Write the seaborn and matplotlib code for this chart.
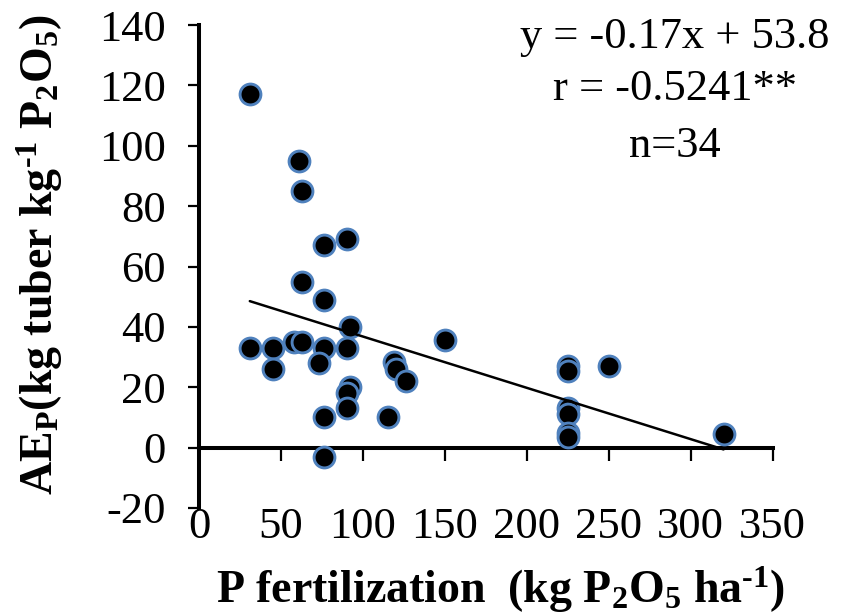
import matplotlib
matplotlib.use("Agg")
import matplotlib.pyplot as plt
import seaborn as sns
import pandas as pd

# P application rate (kg P2O5 / ha) and agronomic efficiency of P
p_rate = [31, 61, 63, 76, 90, 63, 76, 92,
          31, 45, 58, 63, 76, 90, 45, 73,
          119, 120, 126, 92, 90, 90, 76, 115, 76,
          150, 225, 225, 250, 225, 225, 225, 225, 320]
ae_p = [117, 95, 85, 67, 69, 55, 49, 40,
        33, 33, 35, 35, 33, 33, 26, 28,
        28.5, 26, 22, 20, 18, 13, 10, 10, -3,
        35.5, 27, 25.5, 27, 13, 11, 5, 3.5, 4.5]

# Fitted linear trend and statistics
slope, intercept = -0.17, 53.8
stats_lines = ["y = -0.17x + 53.8", "r = -0.5241**", "n=34"]

x_ticks = [0, 50, 100, 150, 200, 250, 300, 350]
y_ticks = [-20, 0, 20, 40, 60, 80, 100, 120, 140]

df = pd.DataFrame({"P": p_rate, "AE": ae_p})

sns.set_style("ticks")
plt.rcParams["font.family"] = ["Liberation Serif", "DejaVu Serif"]
plt.rcParams["mathtext.fontset"] = "custom"
plt.rcParams["mathtext.rm"] = "Liberation Serif"
plt.rcParams["mathtext.bf"] = "Liberation Serif:bold"
plt.rcParams["mathtext.it"] = "Liberation Serif:italic"
for key in ("text.color", "axes.labelcolor", "xtick.color", "ytick.color",
            "axes.edgecolor"):
    plt.rcParams[key] = "black"

fig = plt.figure(figsize=(8.45, 6.15), dpi=100)
ax = fig.add_axes([0.2355, 0.174, 0.679, 0.7853])

sns.scatterplot(data=df, x="P", y="AE", ax=ax, s=225, color="black",
                edgecolor="#4F81BD", linewidth=2.1, zorder=3, legend=False)

# trend line across the observed range
x0, x1 = min(p_rate), max(p_rate)
sns.lineplot(x=[x0, x1], y=[slope * x0 + intercept, slope * x1 + intercept],
             ax=ax, color="black", linewidth=1.8, zorder=4)

ax.set_xlim(0, 350)
ax.set_ylim(-20, 140)
ax.set_xticks(x_ticks)
ax.set_yticks(y_ticks)
ax.set_xticklabels([str(v) for v in x_ticks])
ax.set_yticklabels([str(v) for v in y_ticks])

for side in ("top", "right"):
    ax.spines[side].set_visible(False)
ax.spines["bottom"].set_position(("data", 0))
ax.spines["bottom"].set_linewidth(2.9)
ax.spines["left"].set_linewidth(2.9)

ax.tick_params(axis="x", direction="out", length=9.5, width=1.6,
               labelsize=32, pad=33)
ax.tick_params(axis="y", direction="out", length=8, width=1.6,
               labelsize=32, pad=16)

ax.set_xlabel("P fertilization  (kg P$_\\mathbf{2}$O$_\\mathbf{5}$ ha$^\\mathbf{\u20101}$)",
              fontsize=33, fontweight="bold", va="baseline")
ax.xaxis.set_label_coords(0.526, -0.197)
ax.set_ylabel("AE$_\\mathbf{P}$(kg tuber kg$^\\mathbf{\u20101}$ P$_\\mathbf{2}$O$_\\mathbf{5}$)",
              fontsize=33, fontweight="bold", va="baseline")
ax.yaxis.set_label_coords(-0.255, 0.524)

for line, yfrac in zip(stats_lines, [0.952, 0.845, 0.727]):
    ax.text(0.829, yfrac, line, transform=ax.transAxes, ha="center",
            va="baseline", fontsize=32)

fig.savefig("out.png", dpi=100)
